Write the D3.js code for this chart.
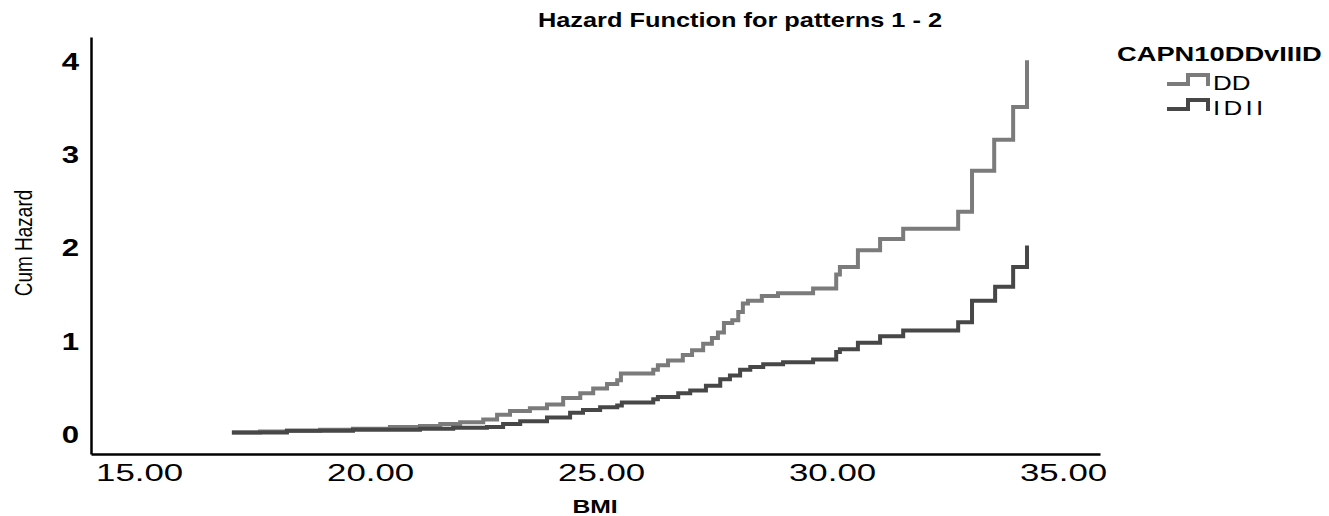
<!DOCTYPE html>
<html>
<head>
<meta charset="utf-8">
<script src="https://cdn.jsdelivr.net/npm/d3@7"></script>
<style>
  body { margin: 0; background: #fff; }
  text { font-family: "Liberation Sans", Arial, sans-serif; fill: #000; }
</style>
</head>
<body>
<div id="chart"></div>
<script>
// BMI / cumulative hazard, one entry per step
const bmiDD = [17.01, 17.62, 18.2, 18.92, 19.63, 20.43, 21.08, 21.52, 21.95, 22.45, 22.75, 23.03, 23.46, 23.83, 24.18, 24.55, 24.83, 25.13, 25.35, 25.43, 26.13, 26.23, 26.45, 26.77, 26.97, 27.21, 27.4, 27.53, 27.66, 27.84, 27.97, 28.07, 28.18, 28.48, 28.83, 29.59, 30.09, 30.17, 30.56, 31.04, 31.54, 32.73, 33.03, 33.51, 33.92, 34.22];
const hazDD = [0.03, 0.04, 0.05, 0.06, 0.07, 0.09, 0.1, 0.12, 0.14, 0.17, 0.22, 0.26, 0.29, 0.33, 0.4, 0.45, 0.5, 0.55, 0.59, 0.66, 0.7, 0.75, 0.8, 0.86, 0.91, 0.98, 1.04, 1.1, 1.2, 1.23, 1.32, 1.41, 1.44, 1.49, 1.52, 1.57, 1.72, 1.8, 1.98, 2.1, 2.21, 2.39, 2.83, 3.16, 3.51, 4.01];

const bmiIDII = [17.01, 18.2, 19.63, 21.08, 21.8, 22.53, 22.88, 23.25, 23.83, 24.33, 24.61, 24.98, 25.35, 25.45, 26.13, 26.23, 26.67, 26.93, 27.27, 27.58, 27.79, 28.01, 28.23, 28.51, 28.94, 29.59, 30.09, 30.17, 30.56, 31.04, 31.54, 32.73, 33.03, 33.53, 33.92, 34.22];
const hazIDII = [0.03, 0.05, 0.06, 0.07, 0.08, 0.09, 0.12, 0.15, 0.19, 0.24, 0.27, 0.3, 0.32, 0.35, 0.385, 0.41, 0.45, 0.48, 0.53, 0.6, 0.64, 0.7, 0.73, 0.76, 0.78, 0.81, 0.89, 0.92, 0.99, 1.06, 1.12, 1.21, 1.44, 1.59, 1.8, 2.03];

const groups = ["DD", "IDII"];
const xTicks = [15, 20, 25, 30, 35];
const yTicks = [0, 1, 2, 3, 4];

const width = 1329, height = 516;
const SX = 1.3; // the reference is stretched sideways, text too

const colors = { DD: "#7b7b7b", IDII: "#474747" };

const svg = d3.select("#chart").append("svg")
  .attr("width", width)
  .attr("height", height);

const x = d3.scaleLinear().domain([13.96, 35.8]).range([91, 1100]);
const y = d3.scaleLinear().domain([-0.2, 4.26]).range([454, 37]);

const series = [
  { name: "DD", values: bmiDD.map((b, i) => [b, hazDD[i]]) },
  { name: "IDII", values: bmiIDII.map((b, i) => [b, hazIDII[i]]) },
];

const line = d3.line()
  .x(d => x(d[0]))
  .y(d => y(d[1]))
  .curve(d3.curveStepAfter);

svg.selectAll("path.series")
  .data(series)
  .join("path")
  .attr("class", "series")
  .attr("fill", "none")
  .attr("stroke", d => colors[d.name])
  .attr("stroke-width", 4)
  .attr("d", d => line(d.values));

// axes: plain lines, no tick marks
const xAxis = svg.append("g")
  .attr("transform", `translate(0,${y.range()[0]})`)
  .call(d3.axisBottom(x).tickValues(xTicks).tickSize(0).tickPadding(0)
    .tickFormat(d3.format(".2f")));

const yAxis = svg.append("g")
  .attr("transform", `translate(${x.range()[0]},0)`)
  .call(d3.axisLeft(y).tickValues(yTicks).tickSize(0).tickPadding(0)
    .tickFormat(d3.format("d")));

[xAxis, yAxis].forEach(g => {
  g.select(".domain").attr("stroke", "#000").attr("stroke-width", 2.5);
  g.selectAll("text")
    .attr("font-size", 24)
    .attr("font-family", "Liberation Sans, Arial, sans-serif")
    .attr("fill", "#000");
});

xAxis.selectAll(".tick text")
  .attr("y", 0)
  .attr("dy", 0)
  .attr("transform", "translate(0,27) scale(1.45,1)");

yAxis.selectAll(".tick text")
  .attr("x", 0)
  .attr("font-weight", "bold")
  .attr("transform", `translate(-12,0) scale(${SX},1)`);

function label(txt, px, py, size, weight, anchor) {
  return svg.append("text")
    .attr("transform", `translate(${px},${py}) scale(${SX},1)`)
    .attr("text-anchor", anchor)
    .attr("font-size", size)
    .attr("font-weight", weight)
    .text(txt);
}

label("Hazard Function for patterns 1 - 2", 740, 27, 19.5, "bold", "middle");
label("BMI", 595, 513, 19, "bold", "middle");
label("CAPN10DDvIIID", 1117, 61, 21, "bold", "start");

svg.append("text")
  .attr("transform", `translate(32,243) scale(${SX},1) rotate(-90)`)
  .attr("text-anchor", "middle")
  .attr("font-size", 19)
  .text("Cum Hazard");

// legend
const legend = svg.append("g").attr("transform", "translate(1167,0)");
const legendRows = legend.selectAll("g")
  .data(groups)
  .join("g")
  .attr("transform", (d, i) => `translate(0,${84 + i * 25})`);

legendRows.append("path")
  .attr("fill", "none")
  .attr("stroke", d => colors[d])
  .attr("stroke-width", 4)
  .attr("d", "M0,0H21V-9H41V2");

legendRows.append("text")
  .attr("transform", `translate(46,6) scale(${SX},1)`)
  .attr("font-size", 20)
  .attr("letter-spacing", d => d === "IDII" ? 2.5 : 0)
  .text(d => d);
</script>
</body>
</html>
